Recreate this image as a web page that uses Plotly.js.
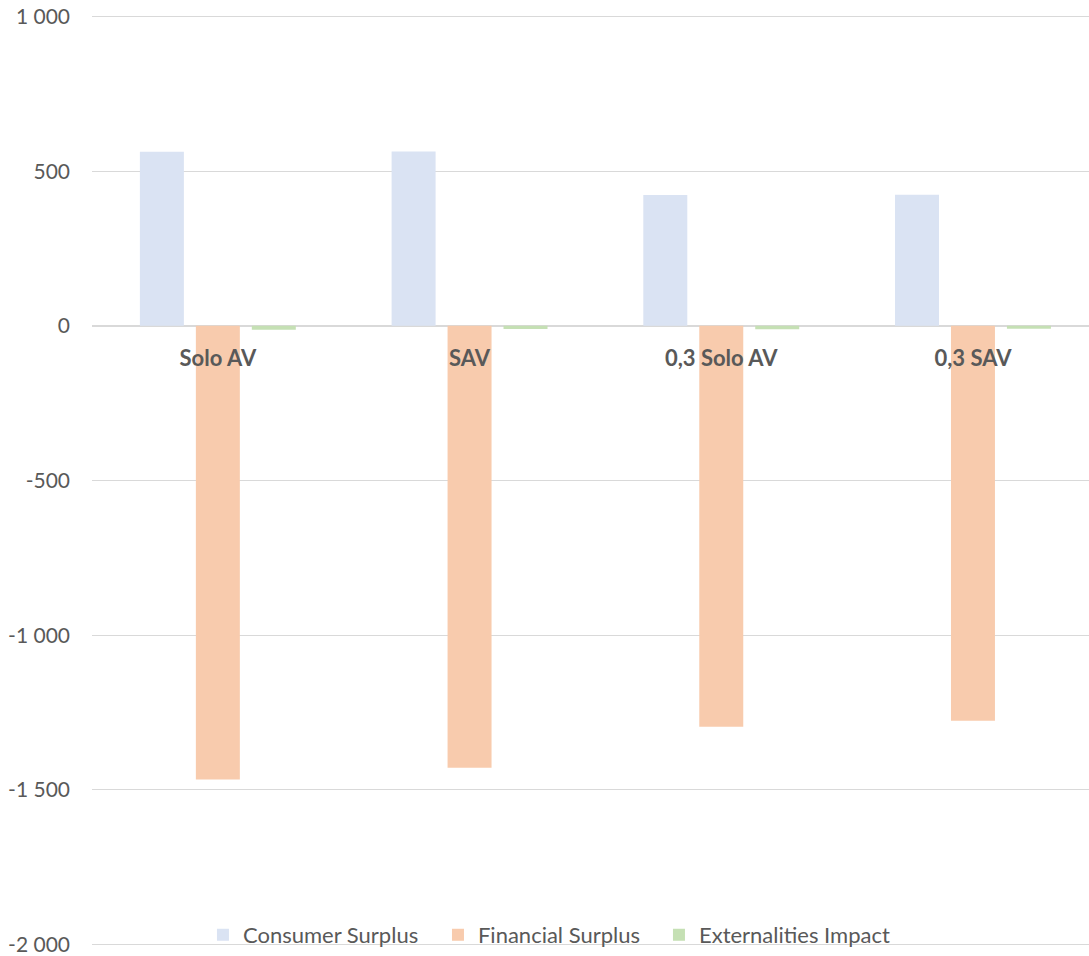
<!DOCTYPE html>
<html>
<head>
<meta charset="utf-8">
<script src="https://cdn.plot.ly/plotly-3.0.1.min.js"></script>
<style>html,body{margin:0;padding:0;background:#fff;}#chart{width:1089px;height:956px;}</style>
</head>
<body>
<div id="chart"></div>
<script>
const categories = ["Solo AV", "SAV", "0,3 Solo AV", "0,3 SAV"];
const consumerSurplus = [563, 564, 423, 424];
const financialSurplus = [-1467, -1429, -1296, -1277];
const externalitiesImpact = [-13, -10, -11, -9];
const seriesNames = ["Consumer Surplus", "Financial Surplus", "Externalities Impact"];
const yTicks = [-2000, -1500, -1000, -500, 0, 500, 1000];
const yTickLabels = ["-2 000", "-1 500", "-1 000", "-500", "0", "500", "1 000"];

const colors = ["#DAE3F3", "#F8CBAD", "#C5E0B4"];
const legendWidths = [190, 176, 205];
const values = [consumerSurplus, financialSurplus, externalitiesImpact];

const traces = values.map((v, i) => ({
  type: "bar",
  name: seriesNames[i],
  x: categories,
  y: v,
  marker: {color: colors[i]},
  legendwidth: legendWidths[i],
  hoverinfo: "x+y+name"
}));

const yMin = -2005, yMax = 1005;

const layout = {
  width: 1089,
  height: 956,
  margin: {l: 92, r: 0, t: 15, b: 10},
  paper_bgcolor: "#fff",
  plot_bgcolor: "#fff",
  barmode: "group",
  bargap: 0.333,
  bargroupgap: 0.214,
  font: {family: "Lato, 'Open Sans', sans-serif", color: "#595959", size: 22},
  xaxis: {
    type: "category",
    range: [-0.5, 3.461],
    anchor: "free",
    position: (0 - yMin) / (yMax - yMin),
    showgrid: false,
    zeroline: false,
    showline: false,
    ticks: "",
    ticklabelstandoff: 17,
    tickfont: {family: "Lato, 'Open Sans', sans-serif", size: 22, color: "#595959", weight: "bold"}
  },
  yaxis: {
    range: [yMin, yMax],
    tickvals: yTicks,
    ticktext: yTickLabels,
    showgrid: true,
    gridcolor: "#D9D9D9",
    gridwidth: 1.3,
    zeroline: true,
    zerolinecolor: "#D9D9D9",
    zerolinewidth: 1.3,
    showline: false,
    ticks: "",
    ticklabelstandoff: 21,
    ticklabeloverflow: "allow",
    tickfont: {size: 21, color: "#595959"}
  },
  showlegend: true,
  legend: {
    orientation: "h",
    x: 0.1113,
    xanchor: "left",
    y: -0.0107,
    yanchor: "bottom",
    bgcolor: "rgba(0,0,0,0)",
    font: {size: 22, color: "#595959"},
    traceorder: "normal",
    itemwidth: 30
  }
};

Plotly.newPlot("chart", traces, layout, {displayModeBar: false, staticPlot: true});
</script>
</body>
</html>
